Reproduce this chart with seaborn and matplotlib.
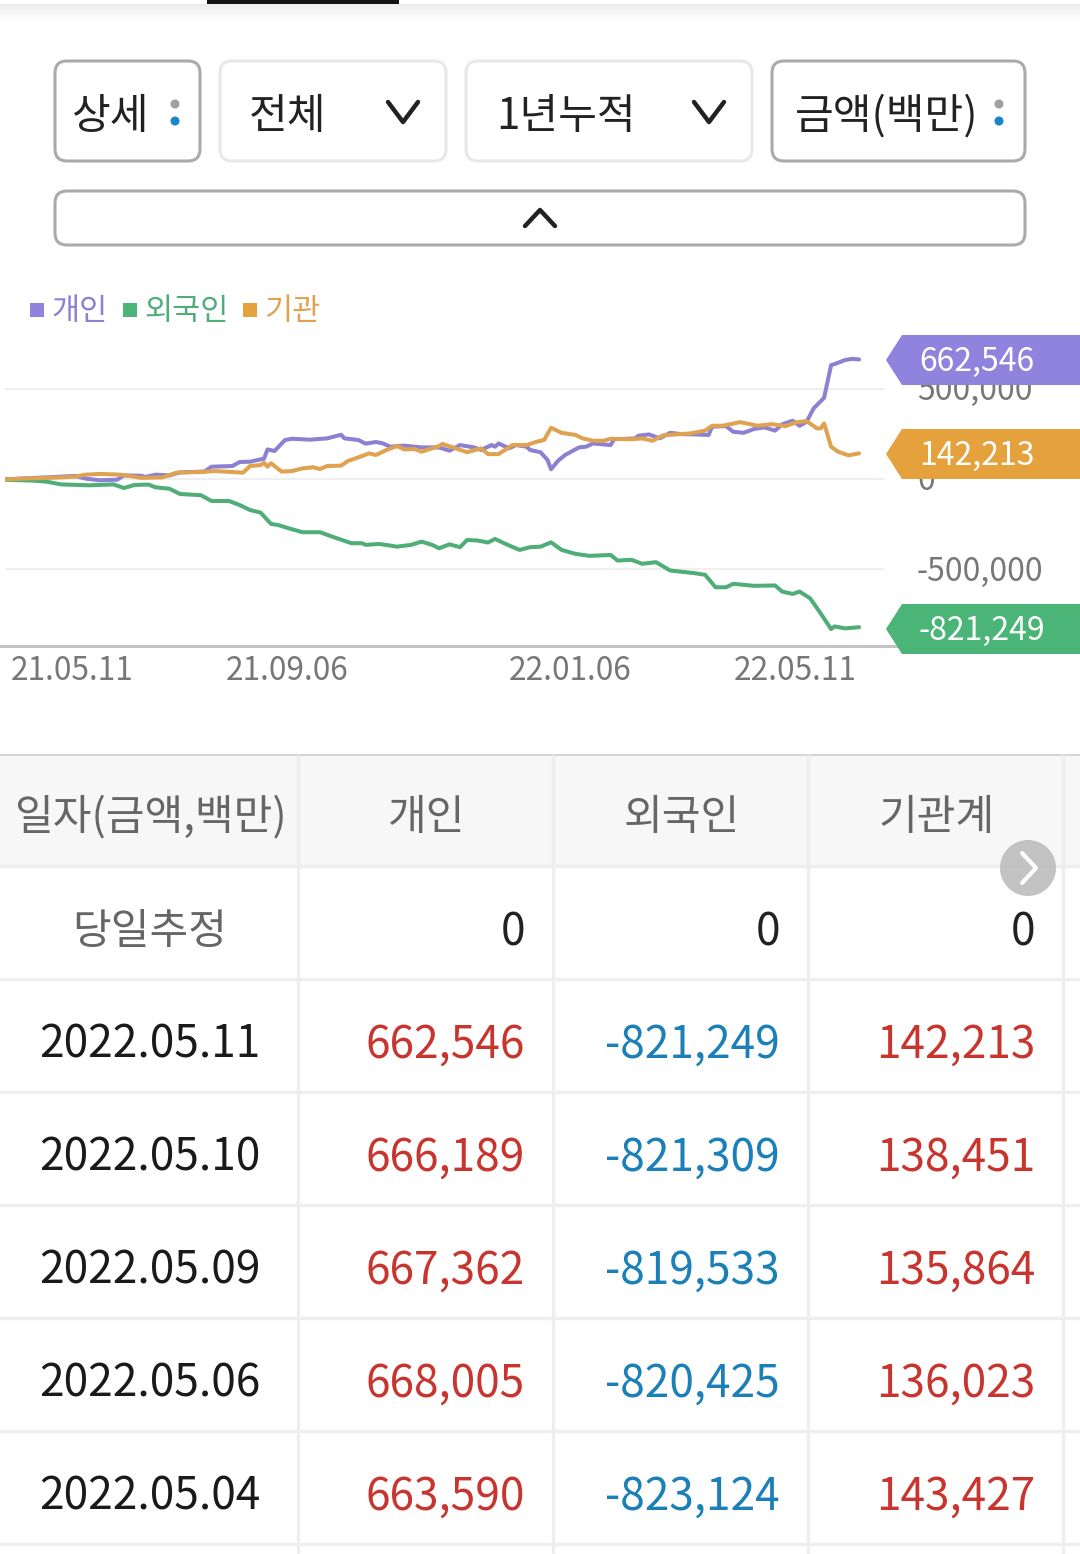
import pandas as pd
import matplotlib
matplotlib.use("Agg")
import matplotlib.pyplot as plt
from matplotlib.patches import FancyBboxPatch, Rectangle, Polygon, Circle
from matplotlib.transforms import ScaledTranslation
import seaborn as sns

# cumulative net buying, thousands of the 백만 unit
personal_x = [0, 16, 20, 23, 27, 32, 34, 39, 40, 43, 47, 50, 57, 59, 65, 67, 70, 74, 75, 77, 80, 82, 87, 92, 96, 97,
              101, 103, 106, 108, 110, 114, 119, 122, 124, 127, 130, 134, 136, 139, 140, 141, 144, 146, 149, 150,
              153, 155, 156, 158, 160, 164, 166, 168, 173, 174, 180, 181, 184, 187, 190, 193, 197, 201, 202, 206,
              208, 211, 214, 217, 220, 222, 225, 227, 229, 231, 234, 236, 237, 240, 242, 244]
personal_y = [-2, 13, 17, 2, -7, -4, 20, 18, 11, 24, 20, 37, 41, 68, 72, 94, 96, 113, 164, 155, 216, 223, 218, 225, 245, 225,
              216, 196, 205, 197, 179, 185, 175, 175, 175, 157, 188, 175, 161, 188, 179, 197, 170, 188, 179, 161,
              148, 105, 54, 101, 133, 175, 179, 197, 188, 220, 225, 240, 247, 225, 256, 249, 247, 244, 290, 293,
              262, 256, 277, 286, 268, 303, 323, 295, 317, 391, 450, 631, 637, 659, 666, 662.546]

foreign_x = [0, 8, 12, 16, 24, 31, 34, 37, 41, 43, 47, 50, 56, 59, 64, 67, 70, 73, 76, 78, 81, 85, 90, 94, 99, 102, 103,
             107, 112, 116, 119, 122, 124, 127, 130, 132, 135, 138, 140, 143, 147, 150, 153, 156, 159, 163, 167, 173,
             175, 179, 182, 186, 190, 197, 200, 203, 206, 208, 214, 220, 222, 225, 227, 230, 233, 236, 237, 240, 244]
foreign_y = [-4, -9, -15, -30, -35, -30, -50, -33, -31, -46, -54, -83, -90, -122, -122, -144, -172, -186, -249, -255, -273, -295, -295, -323, -356, -356, -365,
             -360, -375, -365, -347, -365, -384, -362, -378, -338, -341, -352, -332, -360, -393, -378, -375, -351, -393, -415, -426, -421,
             -452, -448, -470, -461, -507, -522, -531, -600, -600, -581, -592, -590, -624, -637, -624, -661, -744, -832, -817, -828, -821.249]

inst_x = [0, 8, 16, 20, 23, 27, 33, 39, 45, 49, 56, 60, 68, 70, 73, 74, 75, 76, 79, 82, 85, 88, 90, 92, 96, 98,
          101, 104, 106, 109, 112, 114, 117, 119, 122, 124, 125, 128, 132, 136, 138, 141, 145, 149, 152, 154, 156, 159,
          163, 165, 168, 171, 173, 179, 182, 185, 188, 196, 200, 202, 205, 210, 215, 219, 223, 226, 229, 232, 233, 234, 236, 238, 241, 244]
inst_y = [-2, 4, 9, 13, 24, 28, 24, 6, 9, 35, 39, 44, 35, 72, 77, 90, 68, 87, 41, 44, 59, 65, 55, 72, 74, 100,
          120, 142, 133, 161, 183, 164, 166, 151, 170, 183, 194, 175, 148, 170, 138, 138, 188, 188, 207, 216, 284, 256,
          244, 225, 212, 212, 223, 220, 225, 212, 242, 253, 268, 295, 295, 315, 295, 304, 293, 314, 321, 280, 280, 308, 179, 151, 131, 142.213]

series_names = ["개인", "외국인", "기관"]
line_colors = ["#8c80d2", "#4fae78", "#dfa250"]
badge_colors = ["#8f83de", "#4bb578", "#e5a23c"]
last_labels = ["662,546", "142,213", "-821,249"]

ytick_values = [500000, 0, -500000]
xtick_pos = [19.1, 80.6, 161.4, 225.7]
xtick_labels = ["21.05.11", "21.09.06", "22.01.06", "22.05.11"]

dates = ["2022.05.11", "2022.05.10", "2022.05.09", "2022.05.06", "2022.05.04"]
personal_rows = [662546, 666189, 667362, 668005, 663590]
foreign_rows = [-821249, -821309, -819533, -820425, -823124]
inst_rows = [142213, 138451, 135864, 136023, 143427]
headers = ["일자(금액,백만)", "개인", "외국인", "기관계"]

W, H = 1080, 1554
RED, BLUE, GREY = "#c8352e", "#1b7fb8", "#666666"
LINE = "#eeeeee"

sns.set_theme(style="white")
plt.rcParams["font.family"] = ["Noto Sans CJK KR", "DejaVu Sans"]

df = pd.concat([
    pd.DataFrame({"session": personal_x, "value": [v * 1000 for v in personal_y], "who": "개인"}),
    pd.DataFrame({"session": foreign_x, "value": [v * 1000 for v in foreign_y], "who": "외국인"}),
    pd.DataFrame({"session": inst_x, "value": [v * 1000 for v in inst_y], "who": "기관"}),
])

fig = plt.figure(figsize=(W / 100, H / 100), dpi=100, facecolor="white")

# chart area, 5..885 px wide and 335..645 px tall
ax = fig.add_axes([5 / W, 1 - 645 / H, 880 / W, 310 / H])
ax.set_facecolor("none")
sns.lineplot(data=df, x="session", y="value", hue="who", hue_order=series_names, palette=line_colors,
             linewidth=2.9, errorbar=None, legend=False, ax=ax)
ax.set_xlim(0, 251.4)
ax.set_ylim(-920000, 798000)
ax.set_xlabel("")
ax.set_ylabel("")
sns.despine(ax=ax, left=True, bottom=True, top=True, right=True)
ax.yaxis.tick_right()
ax.set_yticks(ytick_values)
ax.set_yticklabels([f"{v:,}" for v in ytick_values], fontsize=23, color="#777777")
ax.set_xticks(xtick_pos)
ax.set_xticklabels(xtick_labels, fontsize=22.8, color="#777777")
ax.tick_params(axis="y", length=0, pad=23)
ax.tick_params(axis="x", length=0, pad=7)
ax.grid(axis="y", color="#efefef", linewidth=1.5)
ax.set_axisbelow(True)
# tick labels sit slightly higher than the font's centre
for t in ax.get_yticklabels():
    t.set_transform(t.get_transform() + ScaledTranslation(0, 1 / 100, fig.dpi_scale_trans))

# everything around the chart is laid out in screen pixels
ui = fig.add_axes([0, 0, 1, 1])
ui.set_xlim(0, W)
ui.set_ylim(H, 0)
ui.axis("off")
ui.patch.set_alpha(0)


def label(x, y, s, size=30.3, color="#222222", ha="left"):
    ui.text(x, y, s, fontsize=size, color=color, ha=ha, va="center_baseline")


def button(x0, y0, x1, y1, edge):
    ui.add_patch(FancyBboxPatch((x0, y0), x1 - x0, y1 - y0, boxstyle="round,pad=0,rounding_size=12",
                                fc="white", ec=edge, lw=2.2))


def chevron(cx, cy, w, h, color="#222222", lw=3.2):
    ui.plot([cx - w, cx, cx + w], [cy - h, cy + h, cy - h], color=color, lw=lw, solid_capstyle="round")


# top tab shadow
for i in range(18):
    shade = 0.925 + 0.075 * i / 17
    ui.add_patch(Rectangle((0, 4 + i), W, 1.2, fc=(shade, shade, shade), ec="none"))
ui.add_patch(Rectangle((207, 0), 192, 4, fc="#111111", ec="none"))

# controls
button(55, 61, 200, 161, "#aaaaaa")
button(220, 61, 446, 161, "#e8e8e8")
button(466, 61, 752, 161, "#e8e8e8")
button(772, 61, 1025, 161, "#aaaaaa")
button(55, 191, 1025, 245, "#aaaaaa")
label(71, 112, "상세")
label(249, 112, "전체")
label(496, 112, "1년누적")
label(795, 112, "금액(백만)")
chevron(403, 112, 15, 10)
chevron(709, 112, 15, 10)
ui.plot([525, 540, 555], [226, 210, 226], color="#222222", lw=3.2, solid_capstyle="round")
for cx in [175, 999]:
    ui.add_patch(Circle((cx, 104), 4.5, fc="#9f9f9f", ec="none"))
    ui.add_patch(Circle((cx, 121), 4.5, fc="#1a85c8", ec="none"))

# legend
for sx, tx, name, lc, bc in zip([30, 123, 243], [51, 144, 264], series_names, line_colors, badge_colors):
    ui.add_patch(Rectangle((sx, 303), 14, 14, fc=bc, ec="none"))
    label(tx, 308, name, size=22, color=lc)

# x axis rule, under the badges
ui.plot([0, W], [645.5, 645.5], color="#c4c4c4", lw=2.2)

# end-of-line badges
for top, txt, col in zip([335, 429, 604], last_labels, [badge_colors[0], badge_colors[2], badge_colors[1]]):
    ui.add_patch(Polygon([(902, top), (W, top), (W, top + 50), (902, top + 50), (886, top + 25)], fc=col, ec="none", zorder=3))
    ui.text(919, top + 23, txt, fontsize=23, color="white", ha="left", va="center_baseline", zorder=4)

# table
ui.add_patch(Rectangle((0, 756), W, 110, fc="#f7f7f7", ec="none"))
ui.plot([0, W], [755, 755], color="#cccccc", lw=1.2)
for y in [866, 979, 1092, 1205, 1318, 1431, 1544]:
    ui.plot([0, W], [y, y], color=LINE, lw=2.4)
for x in [298, 553, 808, 1063]:
    ui.plot([x, x], [756, H], color=LINE, lw=2.4)
for cx, h in zip([150, 427, 682, 937], headers):
    label(cx, 813, h, color=GREY, ha="center")

label(150, 927, "당일추정", color=GREY, ha="center")
for rx in [525, 780, 1035]:
    label(rx, 927, "0", size=31.8, color="#222222", ha="right")

for i, d in enumerate(dates):
    y = 1039.5 + i * 113
    label(150, y, d, size=31.8, color="#1a1a1a", ha="center")
    for rx, col in zip([525, 780, 1035], [personal_rows, foreign_rows, inst_rows]):
        v = col[i]
        label(rx, y, f"{v:,}", size=31.8, color=RED if v > 0 else BLUE, ha="right")

# scroll hint
ui.add_patch(Circle((1028, 868), 28, fc="#bdbdbd", ec="none", alpha=0.9, zorder=3))
ui.plot([1022, 1036, 1022], [853, 868, 883], color="white", lw=3, solid_capstyle="round", zorder=4)

fig.savefig("out.png", dpi=100)
